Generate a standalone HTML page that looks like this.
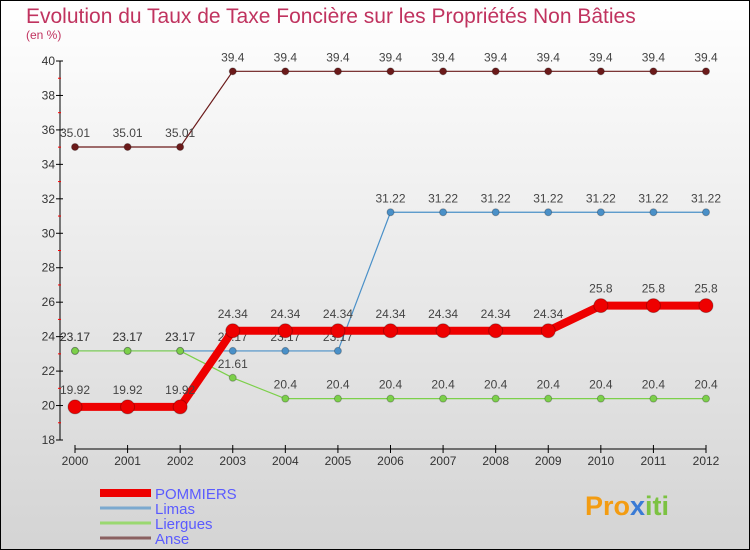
<!DOCTYPE html>
<html><head><meta charset="utf-8"><style>
body{margin:0;width:750px;height:550px;overflow:hidden;font-family:"Liberation Sans",sans-serif}
</style></head><body>
<svg id="c" width="750" height="550" style="display:block">
<defs><linearGradient id="bg" x1="0" y1="0" x2="0" y2="1"><stop offset="0" stop-color="#ffffff"/><stop offset="1" stop-color="#d4d4d4"/></linearGradient></defs>
<rect x="0.5" y="0.5" width="749" height="549" fill="url(#bg)" stroke="#000"/>
<text x="26" y="23" font-size="21" fill="#c0335f">Evolution du Taux de Taxe Foncière sur les Propriétés Non Bâties</text>
<text x="26" y="39" font-size="12" fill="#c0335f">(en %)</text>
<g id="axes"></g><g id="series"></g><g id="legend"></g>
<text x="585" y="515" font-size="27" font-weight="bold" fill="#f39c12">Pro<tspan fill="#3a7bd5">x</tspan><tspan fill="#7cc242">iti</tspan></text>
</svg>
<script>
const years=[2000,2001,2002,2003,2004,2005,2006,2007,2008,2009,2010,2011,2012];
const yTicks=[18,20,22,24,26,28,30,32,34,36,38,40];
const pommiers=[19.92,19.92,19.92,24.34,24.34,24.34,24.34,24.34,24.34,24.34,25.8,25.8,25.8];
const limas=[23.17,23.17,23.17,23.17,23.17,23.17,31.22,31.22,31.22,31.22,31.22,31.22,31.22];
const liergues=[23.17,23.17,23.17,21.61,20.4,20.4,20.4,20.4,20.4,20.4,20.4,20.4,20.4];
const anse=[35.01,35.01,35.01,39.4,39.4,39.4,39.4,39.4,39.4,39.4,39.4,39.4,39.4];
const NS="http://www.w3.org/2000/svg";
const X=i=>75+i*(706-75)/(years.length-1);
const Y=v=>440-(v-18)*(440-61)/22;
function mk(t,a,p){const e=document.createElementNS(NS,t);for(const k in a)e.setAttribute(k,a[k]);p.appendChild(e);return e;}
const ax=document.getElementById('axes');
let l=mk('line',{x1:60,y1:Y(40),x2:60,y2:Y(18),stroke:'#000'},ax);


l=mk('line',{x1:X(0),y1:449,x2:X(12),y2:449,stroke:'#000'},ax);


yTicks.forEach(v=>{mk('line',{x1:56,x2:63,y1:Y(v),y2:Y(v),stroke:'#000'},ax);
 if(v<40)mk('line',{x1:58,x2:61,y1:Y(v+1),y2:Y(v+1),stroke:'#f00'},ax);
 const t=mk('text',{x:55,y:Y(v)+4,'font-size':12,'text-anchor':'end',fill:'#333'},ax);t.textContent=v;
 
 });
years.forEach((y,i)=>{mk('line',{x1:X(i),x2:X(i),y1:445,y2:453,stroke:'#000'},ax);
 const t=mk('text',{x:X(i),y:465,'font-size':12,'text-anchor':'middle',fill:'#333'},ax);t.textContent=y;
 
 });
const sg=document.getElementById('series');
function series(name,vals,col,w,r){const g=mk('g',{},sg);
 
 
 mk('polyline',{points:vals.map((v,i)=>X(i)+','+Y(v)).join(' '),fill:'none',stroke:col,'stroke-width':w,'stroke-linejoin':'round'},g);
 vals.forEach((v,i)=>{const c=mk('circle',{cx:X(i),cy:Y(v),r:r,fill:col,stroke:'rgba(0,0,0,0.25)'},g);
  
  
  const t=mk('text',{x:X(i),y:Y(v)-10-(r>4?3:0),'font-size':12,'text-anchor':'middle',fill:'#444'},g);t.textContent=v;
  
  });}
series('anse',anse,'#6b1a1a',1.2,3.5);
series('limas',limas,'#4a90c8',1.2,3.5);
series('liergues',liergues,'#7cd04a',1.2,3.5);
series('pommiers',pommiers,'#ee0000',8,7);
const lg=document.getElementById('legend');
[['POMMIERS','#ee0000',8,493],['Limas','#7ba9cf',3,508],['Liergues','#9ad870',3,523],['Anse','#8a6060',3,538]].forEach(([n,c,w,y])=>{
 const g=mk('g',{},lg);
 
 
 mk('line',{x1:100,x2:151,y1:y,y2:y,stroke:c,'stroke-width':w},g);
 const t=mk('text',{x:155,y:y+6,'font-size':15,fill:'#5b5bff'},g);t.textContent=n;});
</script>
</body></html>
